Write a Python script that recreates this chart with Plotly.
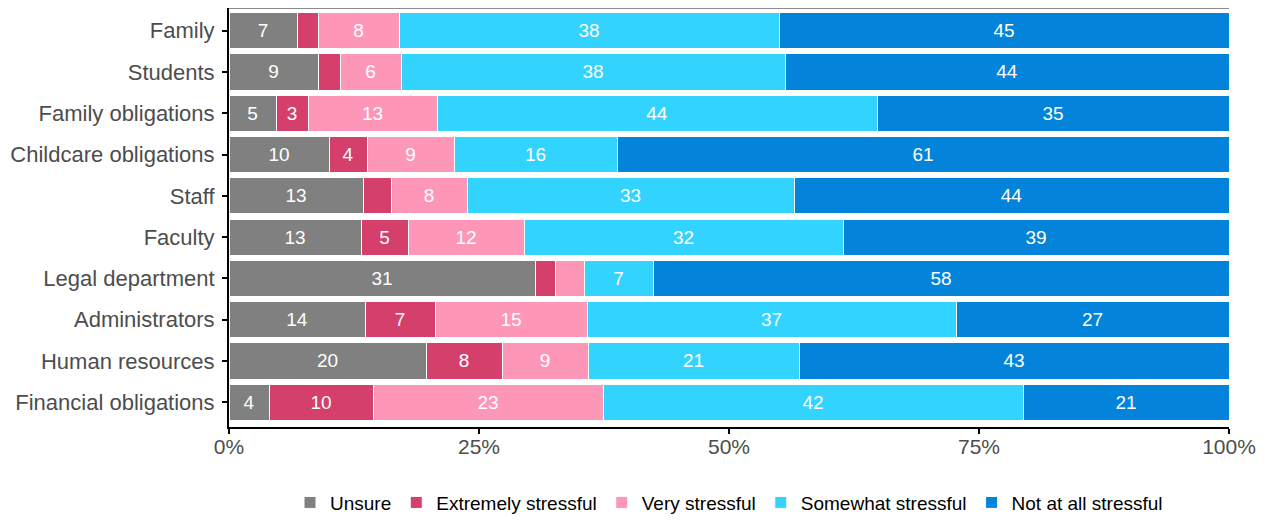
import plotly.graph_objects as go

categories = ["Family", "Students", "Family obligations", "Childcare obligations", "Staff",
              "Faculty", "Legal department", "Administrators", "Human resources", "Financial obligations"]

series_names = ["Unsure", "Extremely stressful", "Very stressful", "Somewhat stressful", "Not at all stressful"]

unsure = [6.8, 8.9, 4.7, 10.0, 13.4, 13.2, 30.6, 13.6, 19.7, 4.0]
extremely = [2.1, 2.2, 3.2, 3.8, 2.8, 4.7, 2.0, 7.0, 7.6, 10.4]
very = [8.1, 6.1, 12.9, 8.7, 7.6, 11.6, 2.9, 15.2, 8.6, 23.0]
somewhat = [38.0, 38.4, 44.0, 16.3, 32.7, 31.9, 6.9, 36.9, 21.1, 42.0]
not_at_all = [45.0, 44.4, 35.2, 61.2, 43.5, 38.6, 57.6, 27.3, 43.0, 20.6]

x_tickvals = [0, 25, 50, 75, 100]
x_ticktext = ["0%", "25%", "50%", "75%", "100%"]

colors = ["#808080", "#D43F6B", "#FE96B8", "#33D3FF", "#0384DA"]
all_series = [unsure, extremely, very, somewhat, not_at_all]

FONT = "Liberation Sans, Arial, sans-serif"

fig = go.Figure()
for name, vals, col in zip(series_names, all_series, colors):
    labels = [str(int(round(v))) if v >= 3 else "" for v in vals]
    fig.add_trace(go.Bar(
        y=categories, x=vals, name=name, orientation="h",
        marker=dict(color=col, line=dict(color="white", width=1)),
        text=labels, textposition="inside", insidetextanchor="middle",
        textfont=dict(color="white", size=19, family=FONT),
        hoverinfo="x+y+name",
    ))

fig.update_layout(
    barmode="stack",
    bargap=0.125,
    width=1260, height=517,
    margin=dict(l=221, r=39, t=0, b=98),
    plot_bgcolor="white", paper_bgcolor="white",
    font=dict(family=FONT, size=19, color="black"),
    legend=dict(orientation="h", x=0.5, xanchor="center", y=-0.135, yanchor="top",
                font=dict(size=19, color="black"), traceorder="normal",
                itemwidth=30),
    xaxis=dict(range=[0, 100], tickvals=x_tickvals, ticktext=x_ticktext,
               showgrid=False, zeroline=False, showline=True, linecolor="black", linewidth=2,
               ticks="outside", ticklen=5, tickcolor="black", tickwidth=2,
               ticklabelstandoff=-5,
               tickfont=dict(size=21, color="#4D4D4D")),
    yaxis=dict(categoryorder="array", categoryarray=categories[::-1],
               range=[-0.6, 9.55],
               showgrid=False, zeroline=False, showline=True, linecolor="black", linewidth=2,
               ticks="outside", ticklen=5, tickcolor="black", tickwidth=2,
               ticklabelstandoff=3,
               tickfont=dict(size=22, color="#4D4D4D")),
)
fig.add_shape(type="line", xref="paper", yref="paper", x0=0, x1=1, y0=1, y1=1,
              line=dict(color="#666666", width=1.5))

fig.write_html("out.html")
